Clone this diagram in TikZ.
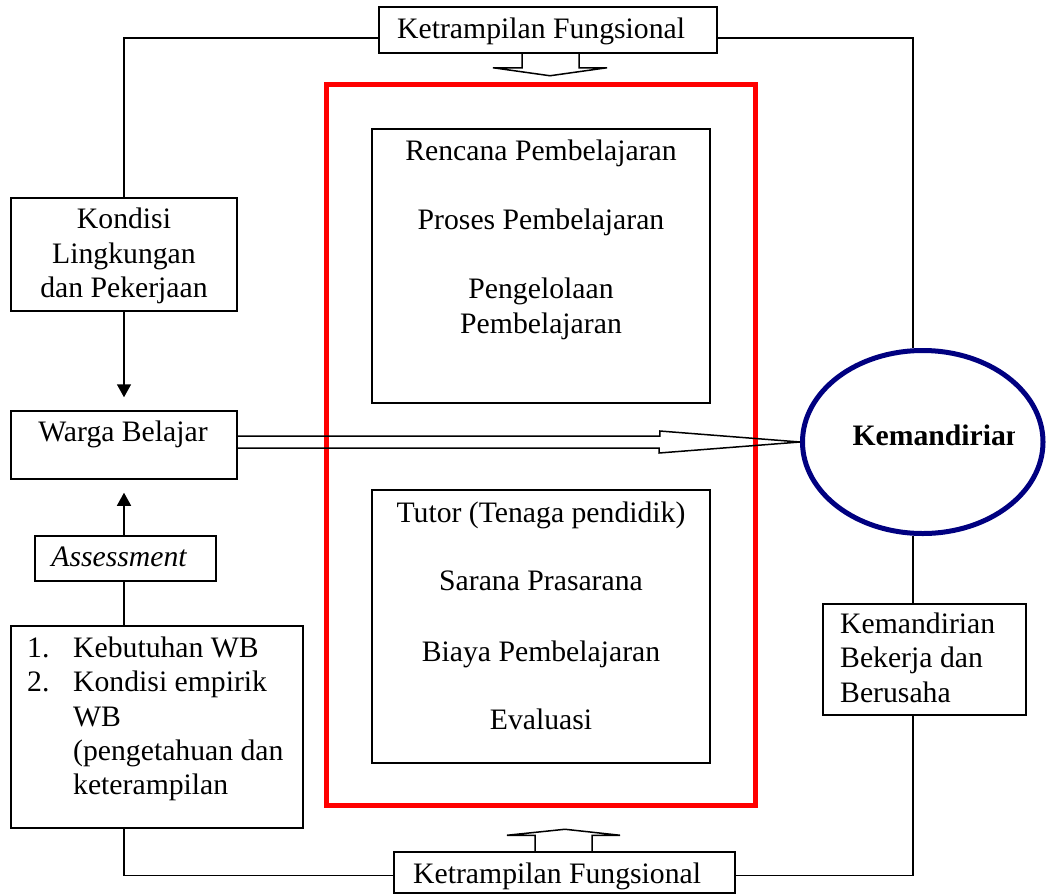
\documentclass[tikz,border=0pt]{standalone}
\usepackage{fontspec}
\setmainfont{Liberation Serif}
\usetikzlibrary{arrows.meta,shapes.geometric}
\definecolor{navyblue}{RGB}{0,0,128}
\begin{document}
\begin{tikzpicture}[x=1pt,y=-1pt,
  every node/.style={inner sep=0pt,font=\fontsize{29.7}{34}\selectfont},
  box/.style={draw,line width=1.5pt,inner sep=0pt},
  txt/.style={anchor=base,inner sep=0pt},
  ltxt/.style={anchor=base west,inner sep=0pt},
  conn/.style={line width=1.5pt},
  arr/.style={line width=1.5pt,-{Triangle[length=13pt,width=14pt]}}]
\useasboundingbox (0,0) rectangle (1046,894);

% red frame
\draw[red,line width=5pt] (326,84.5) rectangle (755,805);

% boxes
\node[box,minimum width=338pt,minimum height=46pt] (ktop) at (548,30) {};
\node[box,minimum width=341pt,minimum height=41pt] (kbot) at (564.5,872.5) {};
\node[box,minimum width=338pt,minimum height=274pt] (rencana) at (541,266) {};
\node[box,minimum width=338pt,minimum height=273pt] (tutor) at (541,626.5) {};
\node[box,minimum width=226pt,minimum height=113pt] (kondisi) at (124,254.5) {};
\node[box,minimum width=226pt,minimum height=68pt] (warga) at (124,445) {};
\node[box,minimum width=181pt,minimum height=45pt] (assess) at (125.5,558.5) {};
\node[box,minimum width=292pt,minimum height=202pt] (list) at (157,727) {};
\node[box,minimum width=203pt,minimum height=111pt] (kbox) at (924.5,659.5) {};
\node[draw=navyblue,line width=5pt,ellipse,minimum width=240.5pt,minimum height=183pt] (kem) at (922.75,442) {};

% texts
\node[ltxt] at (397,38) {Ketrampilan Fungsional};
\node[ltxt] at (413,883) {Ketrampilan Fungsional};
\node[txt] at (541,160) {Rencana Pembelajaran};
\node[txt] at (541,229) {Proses Pembelajaran};
\node[txt] at (541,298) {Pengelolaan};
\node[txt] at (541,333) {Pembelajaran};
\node[txt] at (541,522) {Tutor (Tenaga pendidik)};
\node[txt] at (541,590) {Sarana Prasarana};
\node[txt] at (541,661.5) {Biaya Pembelajaran};
\node[txt] at (541,729) {Evaluasi};
\node[txt] at (124,228.3) {Kondisi};
\node[txt] at (124,263.3) {Lingkungan};
\node[txt] at (124,297.3) {dan Pekerjaan};
\node[txt] at (123,441.7) {Warga Belajar};
\node[txt] at (119,566.7) {\itshape Assessment};
\node[ltxt] at (27,657) {1.};
\node[ltxt] at (73,657) {Kebutuhan WB};
\node[ltxt] at (27,691) {2.};
\node[ltxt] at (73,691) {Kondisi empirik};
\node[ltxt] at (73,726) {WB};
\node[ltxt] at (73,760.5) {(pengetahuan dan};
\node[ltxt] at (73,794) {keterampilan};
\node[ltxt] at (840,633.3) {Kemandirian};
\node[ltxt] at (840,667.7) {Bekerja dan};
\node[ltxt] at (840,702.7) {Berusaha};
\begin{scope}
  \clip (830,400) rectangle (1014,480);
  \node[ltxt] at (852.3,445.7) {\bfseries Kemandirian};
\end{scope}

% helper coordinates
\coordinate (rx) at ([xshift=-11.5pt]kbox.north);
\coordinate (bL) at ([yshift=-3pt]kbot.west);
\coordinate (bR) at ([yshift=-3pt]kbot.east);
\coordinate (wN) at ([yshift=13pt]warga.north);
\coordinate (wS) at ([yshift=-13pt]warga.south);

% connectors
\draw[conn] ([yshift=-8pt]ktop.west) -| (kondisi.north);
\draw[conn] ([yshift=-8pt]ktop.east) -| (rx |- kem.north);
\draw[conn] (rx |- kem.south) -- (rx);
\draw[conn] (rx |- kbox.south) |- (bR);
\draw[arr] (kondisi.south) -- (wN);
\draw[arr] (assess.north -| warga.south) -- (wS);
\draw[conn] (assess.south -| warga.south) -- (list.north -| warga.south);
\draw[conn] (list.south -| warga.south) |- (bL);

% block arrows
\draw[conn,line join=miter] ([xshift=-26pt]ktop.south) -- ++(0,14) -- ++(-29,0) -- ++(57,8) -- ++(57,-8) -- ++(-28,0) -- ++(0,-14);
\draw[conn,line join=miter] ([xshift=-29.5pt]kbot.north) -- ++(0,-16) -- ++(-28,0) -- ++(58,-6) -- ++(55,6) -- ++(-28,0) -- ++(0,16);
\draw[conn,line join=miter] ([yshift=9pt]warga.east) -- ++(422,0) -- ++(0,-5) -- (kem.west) -- ++(-141,11) -- ++(0,-5) -- ++(-422,0);
\end{tikzpicture}
\end{document}
